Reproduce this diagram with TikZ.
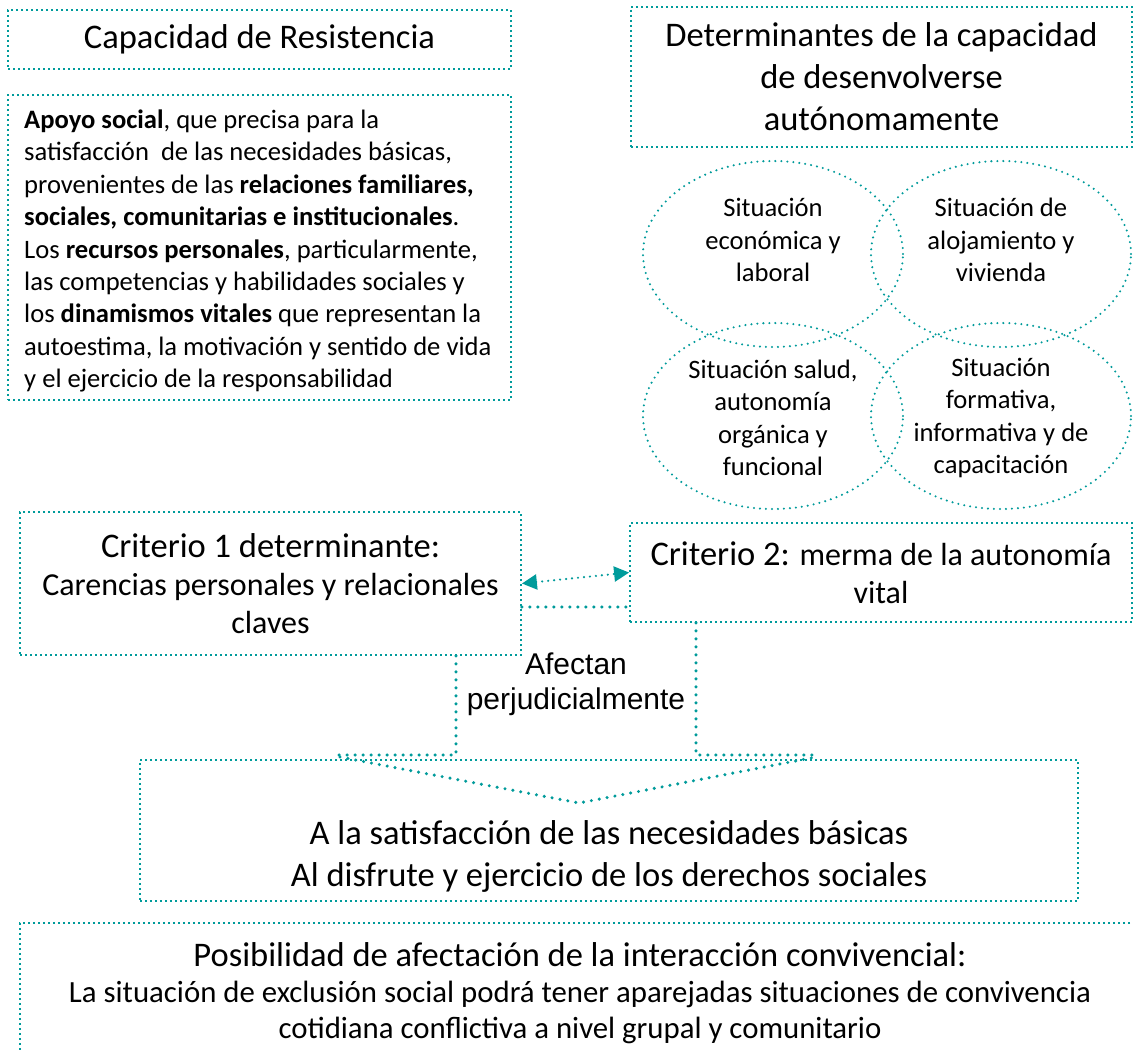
\documentclass[tikz,border=0pt]{standalone}
\usepackage{fontspec}
\setmainfont{Carlito}
\newfontfamily\arialfont{Liberation Sans}
\usetikzlibrary{shapes.geometric,arrows.meta}
\definecolor{verdeazul}{RGB}{0,155,155}
\newcommand{\grande}{\fontsize{34.5}{42}\selectfont}
\newcommand{\mediano}{\fontsize{32}{38}\selectfont}
\newcommand{\chico}{\fontsize{26.6}{32.4}\selectfont}
\begin{document}
\begin{tikzpicture}[x=1pt, y=-1pt,
  marco/.style={draw=verdeazul, line width=1.8pt, dash pattern=on 1.8pt off 3.2pt},
  caja/.style={marco, inner sep=0pt, align=center, font=\grande},
  elipse/.style={ellipse, draw=verdeazul, line width=2.3pt, line cap=round, dash pattern=on 0pt off 6pt, minimum width=260pt, minimum height=186pt, inner sep=0pt},
  texto/.style={align=center, inner sep=0pt, font=\chico},
  conector/.style={draw=verdeazul, line width=3.4pt, line cap=round, dash pattern=on 0pt off 8pt},
  flecha/.style={draw=verdeazul, line width=2.4pt, line cap=round, dash pattern=on 0pt off 6pt, {Triangle[length=15pt,width=15pt]}-{Triangle[length=15pt,width=15pt]}}]
\path[use as bounding box, fill=white] (0,0) rectangle (1133,1050);

\node (resistencia) at (259.5,39.5) [caja, minimum width=503pt, minimum height=59pt] {Capacidad de Resistencia};
\node (apoyo) at (259.5,247.5) [caja, minimum width=503pt, minimum height=305pt] {};
\node (apoyoTxt) at (24,251) [texto, anchor=west, align=left] {\textbf{Apoyo social}, que precisa para la\\ satisfacción~ de las necesidades básicas,\\ provenientes de las \textbf{relaciones familiares,}\\ \textbf{sociales, comunitarias e institucionales}.\\ Los \textbf{recursos personales}, particularmente,\\ las competencias y habilidades sociales y\\ los \textbf{dinamismos vitales} que representan la\\ autoestima, la motivación y sentido de vida\\ y el ejercicio de la responsabilidad};
\node (determinantes) at (881.5,77) [caja, minimum width=501pt, minimum height=140pt] {Determinantes de la capacidad\\ de desenvolverse\\ autónomamente};

\node (economica) at (773,254) [elipse] {};
\node (alojamiento) at (1001,254) [elipse] {};
\node (salud) at (773,416) [elipse] {};
\node (formativa) at (1001,416) [elipse] {};
\node (economicaTxt) at (773,240) [texto] {Situación\\ económica y\\ laboral};
\node (alojamientoTxt) at (1001,240) [texto] {Situación de\\ alojamiento y\\ vivienda};
\node (saludTxt) at (773,418) [texto] {Situación salud,\\ autonomía\\ orgánica y\\ funcional};
\node (formativaTxt) at (1001,418) [texto] {Situación\\ formativa,\\ informativa y de\\ capacitación};

\node (criterio1) at (270.5,583.5) [caja, minimum width=501pt, minimum height=143pt, font=\mediano] {{\grande Criterio 1 determinante:}\\ Carencias personales y relacionales\\ claves};
\node (criterio2) at (881,572.5) [caja, minimum width=502pt, minimum height=99pt, font=\mediano] {{\grande Criterio 2:} merma de la autonomía\\ vital};
\node (afectan) at (576,684) [align=center, inner sep=0pt, font={\arialfont\fontsize{30}{35}\selectfont}] {Afectan\\ perjudicialmente};

\node (satisfaccion) at (609,830.5) [caja, minimum width=938pt, minimum height=141pt] {};
\node (satisfaccionTxt) at (609,856) [texto, font=\grande] {A la satisfacción de las necesidades básicas\\ Al disfrute y ejercicio de los derechos sociales};

\draw[marco] (1140,923) -- (20,923) -- (20,1060);
\node (convivencia) at (580,993) [texto, font=\fontsize{30.8}{36}\selectfont] {{\grande Posibilidad de afectación de la interacción convivencial:}\\ La situación de exclusión social podrá tener aparejadas situaciones de convivencia\\ cotidiana conflictiva a nivel grupal y comunitario};

\coordinate (izq) at (456,755);
\coordinate (izqFin) at (336,755);
\coordinate (der) at (696,755);
\coordinate (derFin) at (816,755);
\coordinate (vIzq) at (340,757);
\coordinate (pico) at (579,803);
\coordinate (vDer) at (816,757);
\coordinate (enlace) at (576,607);

\draw[flecha] (criterio1.east) to (criterio2.west);
\draw[conector] (criterio1.east |- enlace) to (criterio2.west |- enlace);
\draw[conector] (criterio1.south -| izq) -- (izq) -- (izqFin);
\draw[conector] (criterio2.south -| der) -- (der) -- (derFin);
\draw[conector] (vIzq) -- (pico) -- (vDer);
\end{tikzpicture}
\end{document}
